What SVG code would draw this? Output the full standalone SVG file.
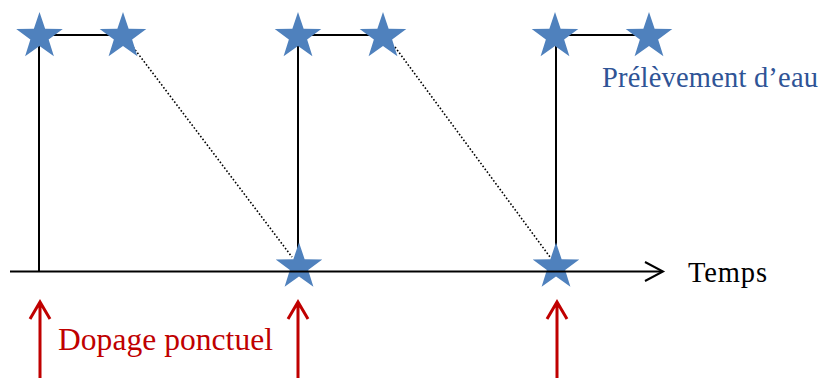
<svg xmlns="http://www.w3.org/2000/svg" width="822" height="378" viewBox="0 0 822 378">
<style>
.ln{stroke:#000;stroke-width:2;fill:none}
.dot{stroke:#000;stroke-width:1.6;stroke-dasharray:1.6 2;fill:none}
.red{stroke:#C00000;stroke-width:3;fill:none}
.star{fill:#4F81BD}
</style>
<defs>
<path id="star" class="star" d="M0,-24.5 L5.64,-7.77 L23.3,-7.57 L9.13,2.97 L14.4,19.82 L0,9.6 L-14.4,19.82 L-9.13,2.97 L-23.3,-7.57 L-5.64,-7.77 Z"/>
</defs>
<rect width="822" height="378" fill="#fff"/>
<g id="connectors">
<path class="ln" d="M39,271 V35 H123"/>
<path class="ln" d="M298,271 V35 H383"/>
<path class="ln" d="M556,271 V35 H648"/>
<path class="dot" d="M133,47 L292,257"/>
<path class="dot" d="M395,47 L550,257"/>
</g>
<g id="samples">
<use href="#star" x="39.5" y="36.5"/>
<use href="#star" x="123" y="36.5"/>
<use href="#star" x="298" y="36.5"/>
<use href="#star" x="383" y="36.5"/>
<use href="#star" x="555" y="36.5"/>
<use href="#star" x="649" y="36.5"/>
<use href="#star" x="299" y="267"/>
<use href="#star" x="556" y="267"/>
</g>
<g id="axis">
<path class="ln" d="M10,271.5 H662"/>
<path class="ln" d="M645,262 L663,271.5 L645,281"/>
<text x="688" y="282" font-family="Liberation Serif, serif" font-size="28.5" textLength="79">Temps</text>
</g>
<g id="doping">
<path class="red" d="M40,378 V302 M30,319 L40,302 L50,319"/>
<path class="red" d="M298,378 V302 M288,319 L298,302 L308,319"/>
<path class="red" d="M557,378 V302 M547,319 L557,302 L567,319"/>
<text x="58" y="350" font-family="Liberation Serif, serif" font-size="31.5" fill="#C00000" textLength="215">Dopage ponctuel</text>
</g>
<g id="label-sampling">
<text x="602" y="87" font-family="Liberation Serif, serif" font-size="28.5" fill="#2F5496" textLength="216">Prélèvement d’eau</text>
</g>
</svg>
